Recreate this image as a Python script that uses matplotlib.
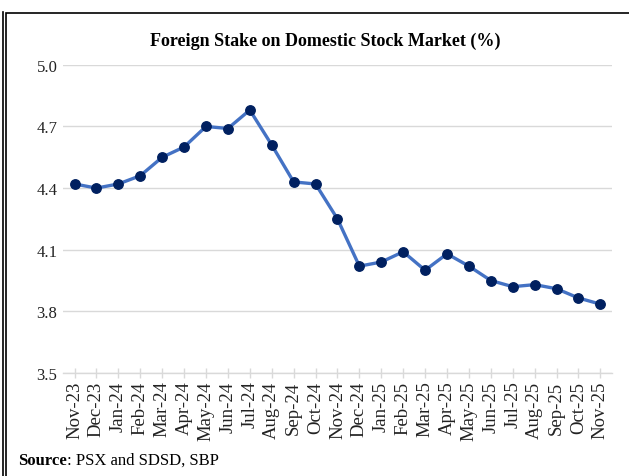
import matplotlib.pyplot as plt
from matplotlib.lines import Line2D
from matplotlib.patches import Rectangle

months = [
    "Nov-23", "Dec-23", "Jan-24", "Feb-24", "Mar-24", "Apr-24", "May-24",
    "Jun-24", "Jul-24", "Aug-24", "Sep-24", "Oct-24", "Nov-24", "Dec-24",
    "Jan-25", "Feb-25", "Mar-25", "Apr-25", "May-25", "Jun-25", "Jul-25",
    "Aug-25", "Sep-25", "Oct-25", "Nov-25",
]
foreign_stake = [
    4.42, 4.40, 4.42, 4.46, 4.55, 4.60, 4.70, 4.69, 4.78, 4.61, 4.43, 4.42,
    4.25, 4.02, 4.04, 4.09, 4.00, 4.08, 4.02, 3.95, 3.92, 3.93, 3.91, 3.865,
    3.835,
]
y_ticks = [3.5, 3.8, 4.1, 4.4, 4.7, 5.0]

plt.rcParams["font.family"] = ["Liberation Serif", "DejaVu Serif"]

fig = plt.figure(figsize=(6.29, 4.77), dpi=100)
ax = fig.add_axes([0.100, 0.216, 0.873, 0.646])

x = range(len(months))
ax.plot(x, foreign_stake, color="#4472C4", linewidth=2.4, marker="o",
        markersize=6.8, markerfacecolor="#002060", markeredgecolor="#002060",
        zorder=3)

ax.set_xlim(-0.53, len(months) - 0.47)
ax.set_ylim(3.5, 5.0)
ax.set_yticks(y_ticks)
ax.set_yticklabels([f"{v:.1f}" for v in y_ticks], fontsize=12)
ax.set_xticks(list(x))
ax.set_xticklabels(months, rotation=90, fontsize=13.5)

ax.grid(axis="y", color="#D9D9D9", linewidth=1.0)
ax.set_axisbelow(True)
for side in ("top", "right", "left"):
    ax.spines[side].set_visible(False)
ax.spines["bottom"].set_color("#D9D9D9")
ax.spines["bottom"].set_linewidth(1.0)
ax.tick_params(axis="y", length=0, pad=4, labelcolor="#222222")
ax.tick_params(axis="x", direction="inout", length=7, color="#D9D9D9",
               width=1.0, pad=2, labelcolor="#222222")

fig.text(0.517, 0.914, "Foreign Stake on Domestic Stock Market (%)",
         ha="center", va="center", fontsize=13, fontweight="bold")

# source note: bold label followed by plain text
src = fig.text(0.029, 0.034, "Source", ha="left", va="center", fontsize=12,
               fontweight="bold")
fig.canvas.draw()
bbox = src.get_window_extent()
fig.text(bbox.x1 / fig.bbox.width, 0.034, ": PSX and SDSD, SBP", ha="left",
         va="center", fontsize=12)

# frame around the panel
fig.add_artist(Rectangle((6 / 629, -0.01), 1.0, 1 - 14 / 477 + 0.01,
                         transform=fig.transFigure, fill=False,
                         edgecolor="black", linewidth=1.2))
fig.add_artist(Line2D([3 / 629, 3 / 629], [0, 1 - 13 / 477],
                      transform=fig.transFigure, color="black", linewidth=1.2))

fig.savefig("out.png", dpi=100)
